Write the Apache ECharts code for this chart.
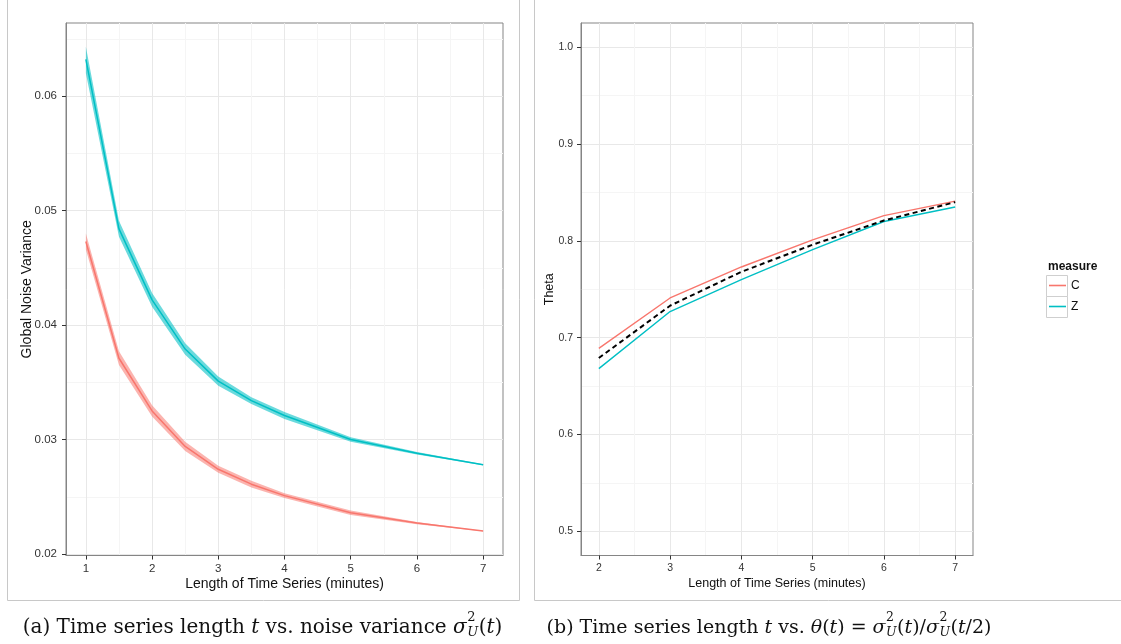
<!DOCTYPE html>
<html>
<head>
<meta charset="utf-8">
<script src="https://cdn.jsdelivr.net/npm/echarts@6/dist/echarts.min.js"></script>
<style>
  html, body { margin: 0; padding: 0; background: #ffffff; }
  #chart { width: 1121px; height: 644px; }
</style>
</head>
<body>
<div id="chart"></div>
<script>
// ---- Panel (a): global noise variance by time-series length ----
const lengthMinutes = [1, 1.5, 2, 2.5, 3, 3.5, 4, 5, 6, 7];
const varianceZ     = [0.0632, 0.0484, 0.0422, 0.0379, 0.0351, 0.0334, 0.0321, 0.0300, 0.0288, 0.0278];
const varianceZLow  = [0.0620, 0.0477, 0.0416, 0.0374, 0.0347, 0.0331, 0.0318, 0.0298, 0.0287, 0.02775];
const varianceZHigh = [0.0643, 0.0491, 0.0428, 0.0384, 0.0355, 0.0337, 0.0324, 0.0302, 0.0289, 0.02785];
const varianceC     = [0.0473, 0.0371, 0.0325, 0.0294, 0.0274, 0.0261, 0.0251, 0.0236, 0.0227, 0.0220];
const varianceCLow  = [0.0466, 0.0365, 0.0320, 0.0290, 0.0271, 0.0258, 0.0249, 0.0234, 0.0226, 0.02198];
const varianceCHigh = [0.0480, 0.0377, 0.0330, 0.0298, 0.0277, 0.0264, 0.0253, 0.0238, 0.0228, 0.02202];
const varianceXTicks = [1, 2, 3, 4, 5, 6, 7];
const varianceXMinor = [1.5, 2.5, 3.5, 4.5, 5.5, 6.5];
const varianceYTicks = [0.02, 0.03, 0.04, 0.05, 0.06];
const varianceYMinor = [0.025, 0.035, 0.045, 0.055, 0.065];

// ---- Panel (b): theta ratio by time-series length ----
const thetaMinutes = [2, 3, 4, 5, 6, 7];
const thetaC       = [0.689, 0.741, 0.773, 0.801, 0.826, 0.841];
const thetaZ       = [0.668, 0.727, 0.760, 0.791, 0.820, 0.835];
const thetaRef     = [0.679, 0.733, 0.768, 0.796, 0.821, 0.840];
const thetaXTicks  = [2, 3, 4, 5, 6, 7];
const thetaXMinor  = [2.5, 3.5, 4.5, 5.5, 6.5];
const thetaYTicks  = [0.5, 0.6, 0.7, 0.8, 0.9, 1.0];
const thetaYMinor  = [0.55, 0.65, 0.75, 0.85, 0.95];

const COLOR_C = '#F8766D';
const COLOR_Z = '#00BFC4';
const BAND_C = 'rgba(248,118,109,0.55)';
const BAND_Z = 'rgba(0,191,196,0.58)';
const SANS = '"Liberation Sans", Arial, Helvetica, sans-serif';
const SERIF = '"DejaVu Serif", "Liberation Serif", serif';
const MAJOR_GRID = '#e8e8e8';
const MINOR_GRID = '#f5f5f5';
const BORDER = '#858585';

const pairs = (xs, ys) => xs.map((x, i) => [x, ys[i]]);

function majorAxis(gridIndex, min, max, ticks, fmt, fontSize, margin, name, nameGap, nameSize) {
  return {
    type: 'value', gridIndex, min, max,
    axisLine: { show: true, lineStyle: { color: BORDER, width: 1 } },
    axisTick: { show: true, length: 4, customValues: ticks, lineStyle: { color: '#333', width: 1 } },
    axisLabel: { customValues: ticks, formatter: fmt, fontSize, margin, color: '#333', fontFamily: SANS },
    splitLine: { show: true, lineStyle: { color: MAJOR_GRID, width: 1 } },
    name, nameLocation: 'middle', nameGap, nameMoveOverlap: false,
    nameTextStyle: { fontSize: nameSize, color: '#111', fontFamily: SANS }
  };
}
function minorAxis(gridIndex, min, max, ticks) {
  return {
    type: 'value', gridIndex, min, max,
    axisLine: { show: false },
    axisTick: { show: false, customValues: ticks },
    axisLabel: { show: false, customValues: ticks },
    splitLine: { show: true, lineStyle: { color: MINOR_GRID, width: 1 } }
  };
}
// Confidence ribbon: one polygon through the upper bounds and back along the lower bounds
function band(xs, lo, hi, fill, xi, yi) {
  return {
    type: 'custom', xAxisIndex: xi, yAxisIndex: yi, silent: true, z: 1,
    data: xs.map((x, i) => [x, lo[i], hi[i]]),
    encode: { x: 0, y: [1, 2] },
    renderItem: (params, api) => {
      if (params.dataIndex !== 0) return null;
      const upper = xs.map((x, i) => api.coord([x, hi[i]]));
      const lower = xs.map((x, i) => api.coord([x, lo[i]])).reverse();
      return { type: 'polygon', shape: { points: upper.concat(lower) }, style: { fill } };
    }
  };
}
function line(name, xs, ys, color, width, xi, yi, dash) {
  return { type: 'line', name, xAxisIndex: xi, yAxisIndex: yi, data: pairs(xs, ys),
    symbol: 'none', silent: true, z: 3,
    lineStyle: { color, width, type: dash || 'solid' } };
}

// ---- Captions: measured text runs with stacked super/subscripts ----
const measureCtx = document.createElement('canvas').getContext('2d');
function textWidth(text, font) { measureCtx.font = font; return measureCtx.measureText(text).width; }

function caption(tokens, centerX, baseline, size) {
  const small = Math.round(size * 0.65 * 2) / 2;
  const mainFont = it => `${it ? 'italic ' : ''}${size}px ${SERIF}`;
  const smallFont = it => `${it ? 'italic ' : ''}${small}px ${SERIF}`;
  const widths = tokens.map(tk => tk.sup !== undefined
    ? Math.max(textWidth(tk.sup, smallFont(false)), textWidth(tk.sub, smallFont(true))) + 1
    : textWidth(tk.t, mainFont(tk.it)));
  const total = widths.reduce((a, b) => a + b, 0);
  let x = centerX - total / 2;
  const out = [];
  tokens.forEach((tk, i) => {
    if (tk.sup !== undefined) {
      out.push({ type: 'text', x: x + 0.5, y: baseline - 12.5 - small * 0.33, silent: true,
        style: { text: tk.sup, font: smallFont(false), fill: '#111', verticalAlign: 'middle', align: 'left' } });
      out.push({ type: 'text', x: x + 0.5, y: baseline + 2 - small * 0.33, silent: true,
        style: { text: tk.sub, font: smallFont(true), fill: '#111', verticalAlign: 'middle', align: 'left' } });
    } else {
      out.push({ type: 'text', x, y: baseline - size * 0.33, silent: true,
        style: { text: tk.t, font: mainFont(tk.it), fill: '#111', verticalAlign: 'middle', align: 'left' } });
    }
    x += widths[i];
  });
  return out;
}

const captionA = caption([
  { t: '(a) Time series length ' }, { t: 't', it: true }, { t: ' vs. noise variance ' },
  { t: 'σ', it: true }, { sup: '2', sub: 'U' }, { t: '(' }, { t: 't', it: true }, { t: ')' }
], 262.5, 634.5, 20);
const captionB = caption([
  { t: '(b) Time series length ' }, { t: 't', it: true }, { t: ' vs. ' },
  { t: 'θ', it: true }, { t: '(' }, { t: 't', it: true }, { t: ') = ' },
  { t: 'σ', it: true }, { sup: '2', sub: 'U' }, { t: '(' }, { t: 't', it: true }, { t: ')/' },
  { t: 'σ', it: true }, { sup: '2', sub: 'U' }, { t: '(' }, { t: 't', it: true }, { t: '/2)' }
], 769, 634.5, 19);

// ---- Legend for the measure colours ----
const legendItems = [['C', COLOR_C], ['Z', COLOR_Z]];
const legendGraphics = [
  { type: 'text', x: 1048, y: 267, silent: true,
    style: { text: 'measure', font: `bold 12px ${SANS}`, fill: '#111', verticalAlign: 'middle' } }
];
legendItems.forEach(([label, color], i) => {
  const top = 275 + i * 21;
  legendGraphics.push(
    { type: 'rect', silent: true, shape: { x: 1046.5, y: top + 0.5, width: 21, height: 21 },
      style: { fill: '#ffffff', stroke: '#cfcfcf', lineWidth: 1 } },
    { type: 'line', silent: true, shape: { x1: 1049, y1: top + 10.5, x2: 1066, y2: top + 10.5 },
      style: { stroke: color, lineWidth: 1.6 } },
    { type: 'text', x: 1071, y: top + 11, silent: true,
      style: { text: label, font: `12px ${SANS}`, fill: '#111', verticalAlign: 'middle' } }
  );
});

const frames = [
  { type: 'rect', silent: true, shape: { x: 7.5, y: -10, width: 512, height: 610.5 },
    style: { fill: 'none', stroke: '#c8c8c8', lineWidth: 1 } },
  { type: 'rect', silent: true, shape: { x: 534.5, y: -10, width: 700, height: 610.5 },
    style: { fill: 'none', stroke: '#c8c8c8', lineWidth: 1 } }
];

const option = {
  animation: false,
  backgroundColor: '#ffffff',
  textStyle: { fontFamily: SANS },
  grid: [
    { left: 66, top: 23, width: 437, height: 532.5, show: true, borderColor: BORDER, borderWidth: 1, backgroundColor: '#fff' },
    { left: 581, top: 23, width: 392, height: 532.5, show: true, borderColor: BORDER, borderWidth: 1, backgroundColor: '#fff' }
  ],
  xAxis: [
    majorAxis(0, 0.7, 7.3, varianceXTicks, v => String(v), 11.5, 7, 'Length of Time Series (minutes)', 21.5, 14),
    minorAxis(0, 0.7, 7.3, varianceXMinor),
    majorAxis(1, 1.75, 7.25, thetaXTicks, v => String(v), 10.5, 7, 'Length of Time Series (minutes)', 22, 12.5),
    minorAxis(1, 1.75, 7.25, thetaXMinor)
  ],
  yAxis: [
    majorAxis(0, 0.01987, 0.06638, varianceYTicks, v => v.toFixed(2), 11.5, 9, 'Global Noise Variance', 31.5, 14),
    minorAxis(0, 0.01987, 0.06638, varianceYMinor),
    majorAxis(1, 0.475, 1.025, thetaYTicks, v => v.toFixed(1), 10.5, 8, 'Theta', 24.5, 12.5),
    minorAxis(1, 0.475, 1.025, thetaYMinor)
  ],
  series: [
    band(lengthMinutes, varianceCLow, varianceCHigh, BAND_C, 0, 0),
    band(lengthMinutes, varianceZLow, varianceZHigh, BAND_Z, 0, 0),
    line('C', lengthMinutes, varianceC, COLOR_C, 1.5, 0, 0),
    line('Z', lengthMinutes, varianceZ, COLOR_Z, 1.5, 0, 0),
    line('C', thetaMinutes, thetaC, COLOR_C, 1.4, 2, 2),
    line('Z', thetaMinutes, thetaZ, COLOR_Z, 1.4, 2, 2),
    line('reference', thetaMinutes, thetaRef, '#000000', 2, 2, 2, [5, 3.5])
  ],
  graphic: [...frames, ...legendGraphics, ...captionA, ...captionB]
};

const chart = echarts.init(document.getElementById('chart'), null, { renderer: 'canvas' });
chart.setOption(option);
</script>
</body>
</html>
